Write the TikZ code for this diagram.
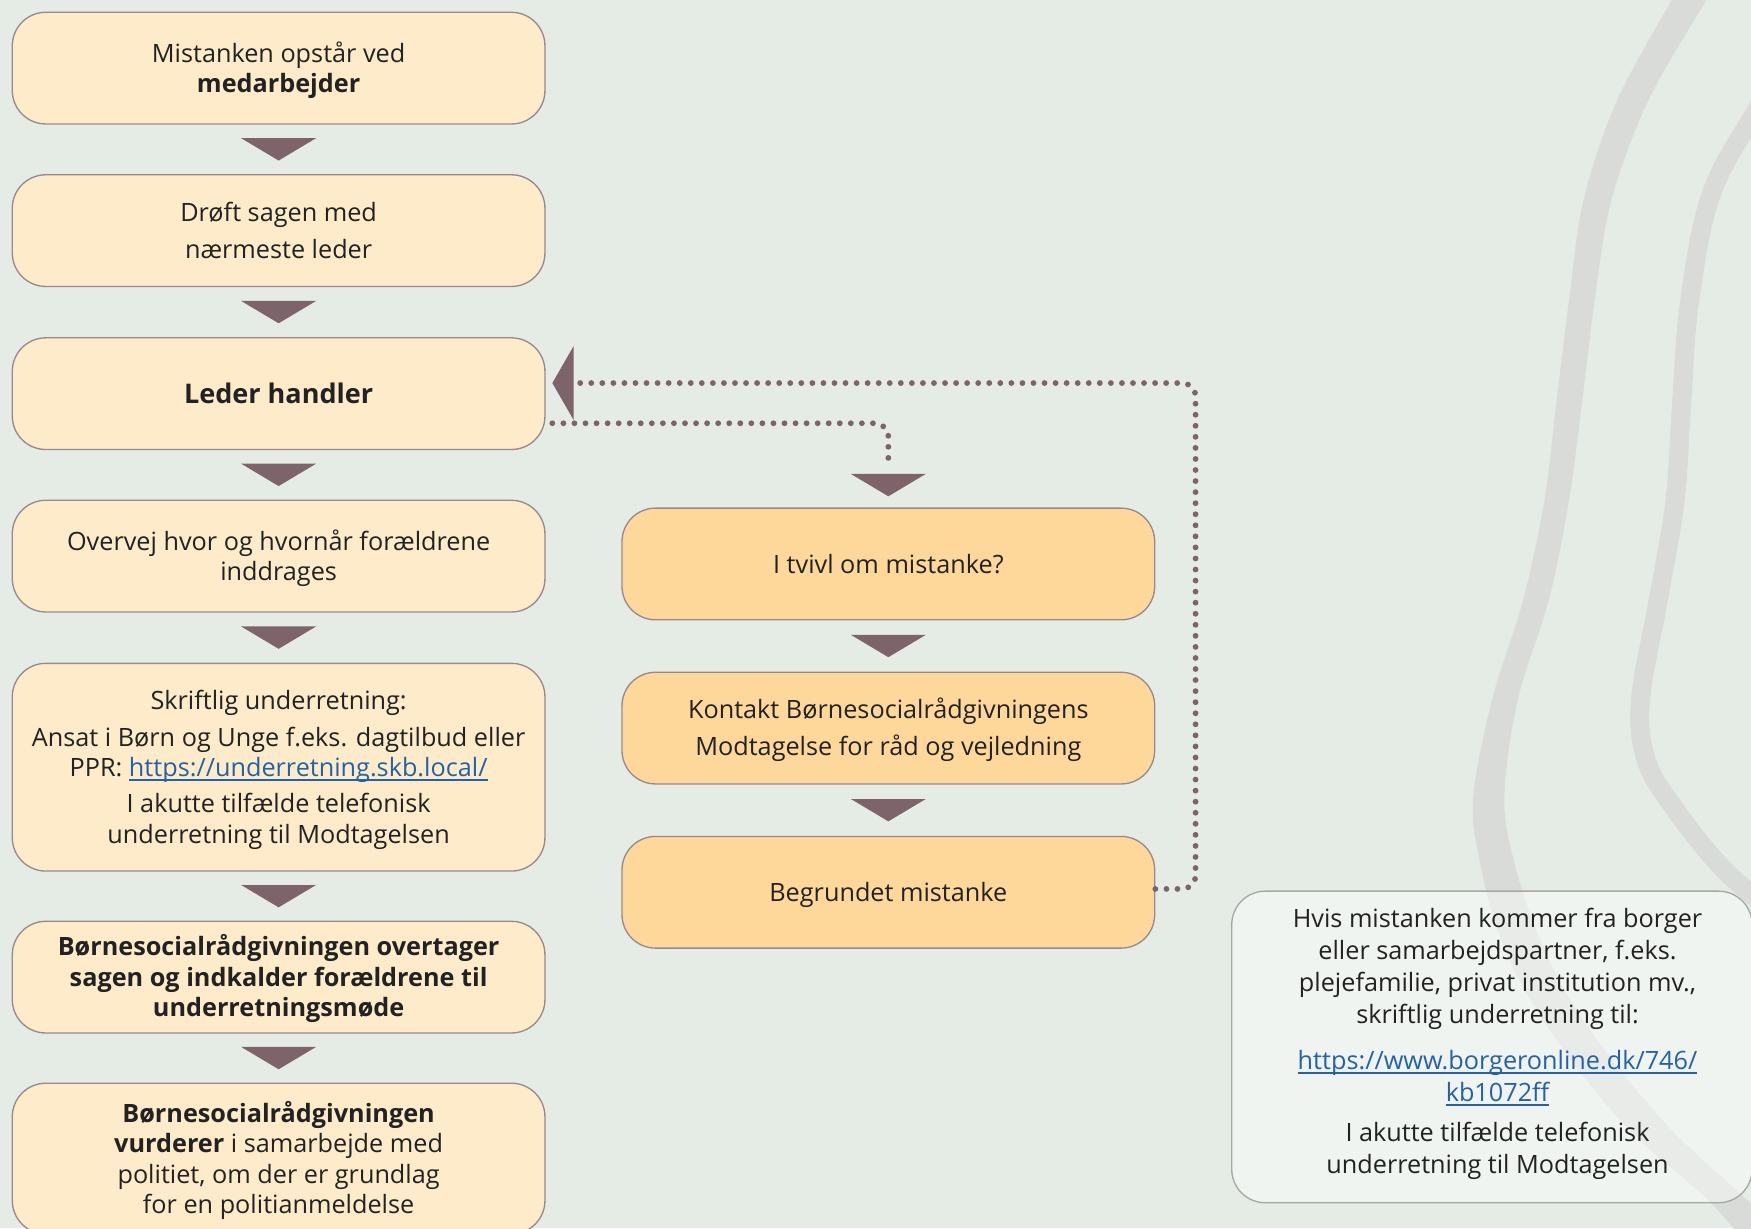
\documentclass[tikz,border=0pt]{standalone}
\usepackage{fontspec}
\setmainfont{Open Sans}
\usetikzlibrary{calc,arrows.meta}
\definecolor{bgc}{HTML}{E5ECE6}
\definecolor{bandc}{HTML}{D8DBD8}
\definecolor{lfill}{HTML}{FEEBC9}
\definecolor{mfill}{HTML}{FED89B}
\definecolor{boxline}{HTML}{9A898C}
\definecolor{tricol}{HTML}{7D646B}
\definecolor{txt}{HTML}{222222}
\definecolor{linkblue}{HTML}{2462A8}
\definecolor{rline}{HTML}{A6A8A6}
\newcommand{\lnk}[1]{{\color{linkblue}\setbox0\hbox{#1}\rlap{\rule[-1.7pt]{\wd0}{0.6pt}}\box0}}
\newcommand{\firstl}{\rule{0pt}{1em}}
\newcommand{\lastl}{\rule[-0.27em]{0pt}{0.27em}}
\newcommand{\onel}{\rule[-0.27em]{0pt}{1.27em}}
\tikzset{
  every node/.style={font=\fontsize{11.3}{13.6}\selectfont, text=txt},
  basebox/.style={draw=boxline, line width=0.6pt, rounded corners=15pt, align=center,
    minimum width=238.5pt, minimum height=50pt, inner sep=2pt},
  lbox/.style={basebox, fill=lfill},
  mbox/.style={basebox, fill=mfill},
  rbox/.style={draw=rline, line width=0.6pt, rounded corners=15pt,
    fill=white, fill opacity=0.45, minimum width=233pt, minimum height=139.5pt},
  rtext/.style={align=center, font=\fontsize{11.3}{14.3}\selectfont},
  tri/.style={fill=tricol},
  dotline/.style={draw=tricol, line width=2.6pt, dash pattern=on 0pt off 4.95pt, line cap=round},
  band/.style={draw=bandc, line cap=butt}
}
\begin{document}
\begin{tikzpicture}[x=0.5pt,y=-0.5pt]
\fill[bgc] (0,0) rectangle (1568,1100);
\useasboundingbox (0,0) rectangle (1568,1100);
\begin{scope}
\clip (0,0) rectangle (1568,1100);
\fill[bandc] plot[smooth, tension=0.55] coordinates {(1506,-15) (1497,0) (1448,90) (1418,179) (1405,269) (1394,358) (1383,448) (1364,537) (1336,627) (1319,716) (1326,776) (1342,836) (1370,895) (1411,955) (1462,1015) (1530,1075) (1560,1110)}
  -- plot[smooth, tension=0.55] coordinates {(1600,1110) (1565,1075) (1500,1015) (1448,955) (1406,895) (1377,836) (1357,776) (1347,716) (1359,627) (1387,537) (1405,448) (1417,358) (1428,269) (1443,179) (1476,90) (1528,0) (1538,-15)} -- cycle;
\draw[band, line width=8.5pt] plot[smooth, tension=0.6] coordinates {(1625,15) (1572,100) (1532,175) (1513,270) (1506,358) (1500,448) (1485,537) (1469,627) (1474,680) (1498,722) (1545,780) (1605,830)};
\draw[band, line width=8pt] plot[smooth, tension=0.7] coordinates {(1605,290) (1577,430) (1605,570)};
\end{scope}

% left column
\node[lbox] (b1) at (249.5,61) {\firstl Mistanken opstår ved\\\textbf{medarbejder}\lastl};
\node[lbox] (b2) at (249.5,206.5) {\firstl Drøft sagen med\\[3pt]nærmeste leder\lastl};
\node[lbox] (b3) at (249.5,352.5) {\fontsize{12.1}{15}\selectfont\onel\textbf{Leder handler}};
\node[lbox] (b4) at (249.5,498) {\firstl Overvej hvor og hvornår forældrene\\inddrages\lastl};
\node[lbox, minimum height=93pt] (b5) at (249.5,687) {\firstl Skriftlig underretning:\\[3pt]Ansat i Børn og Unge f.eks. dagtilbud eller\\PPR: \lnk{https://underretning.skb.local/}\\[2.5pt]I akutte tilfælde telefonisk\\underretning til Modtagelsen\lastl};
\node[lbox] (b6) at (249.5,875) {\firstl\textbf{Børnesocialrådgivningen overtager}\\\textbf{sagen og indkalder forældrene til}\\\textbf{underretningsmøde}\lastl};
\node[lbox, minimum height=67.5pt] (b7) at (249.5,1037.5) {\firstl\textbf{Børnesocialrådgivningen}\\\textbf{vurderer} i samarbejde med\\politiet, om der er grundlag\\for en politianmeldelse\lastl};

% middle column
\node[mbox] (A) at (795.5,505) {\onel I tvivl om mistanke?};
\node[mbox] (B) at (795.5,652) {\firstl Kontakt Børnesocialrådgivningens\\[3pt]Modtagelse for råd og vejledning\lastl};
\node[mbox] (C) at (795.5,799) {\onel Begrundet mistanke};

% right info box
\node[rbox] (R) at (1336,937.5) {};
\node[rtext] (Rt) at ($(R.center)+(5,-5)$) {\firstl Hvis mistanken kommer fra borger\\eller samarbejdspartner, f.eks.\\plejefamilie, privat institution mv.,\\skriftlig underretning til:\\[6.6pt]\lnk{https://www.borgeronline.dk/746/}\\\lnk{kb1072ff}\\[3.6pt]I akutte tilfælde telefonisk\\underretning til Modtagelsen\lastl};

% flow triangles
\foreach \u/\v [count=\i] in {b1/b2,b2/b3,b3/b4,b4/b5,b5/b6,b6/b7,A/B,B/C}{
  \coordinate (t\i) at ($(\u.south)!0.5!(\v.north)$);
  \fill[tri] ($(t\i)+(-33.5,-10)$) -- ++(67,0) -- ++(-33.5,20) -- cycle;
}
\coordinate (tA) at ([yshift=10pt]A.north);
\fill[tri] ($(tA)+(-33.5,-10)$) -- ++(67,0) -- ++(-33.5,20) -- cycle;

% dotted connectors
\coordinate (aIn) at (795.5,412);
\draw[dotline, rounded corners=6pt] ([xshift=3pt,yshift=-13.25pt]b3.east) -| (aIn);
\draw[dotline, rounded corners=6pt, -{Triangle[length=9.5pt,width=33pt,line width=0pt]}]
  ([yshift=1.5pt]C.east) -- ++(36,0) |- ([xshift=3pt,yshift=4.75pt]b3.east);
\end{tikzpicture}
\end{document}
